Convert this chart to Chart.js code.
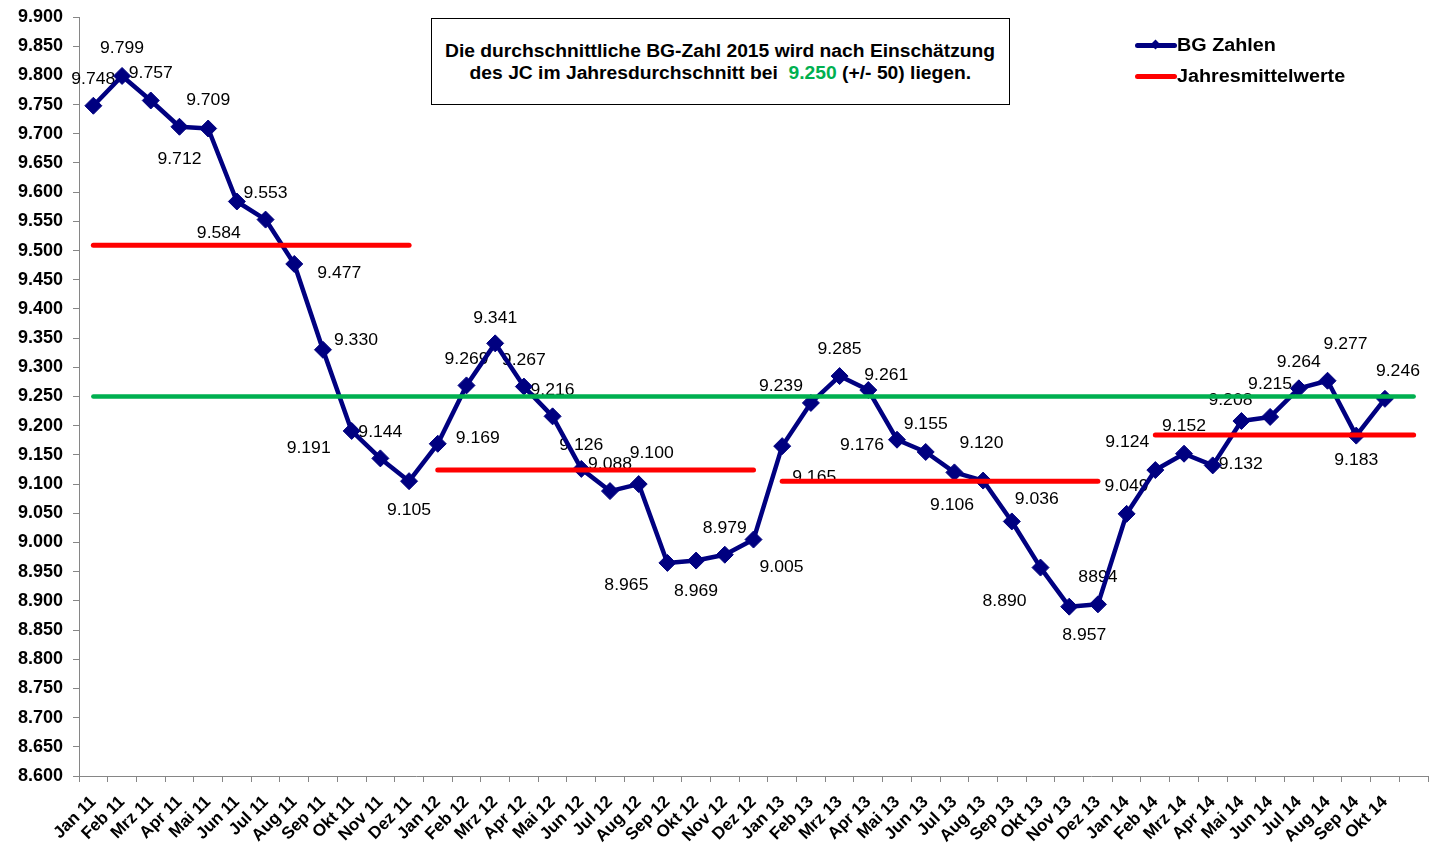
<!DOCTYPE html>
<html>
<head>
<meta charset="utf-8">
<script src="https://cdn.jsdelivr.net/npm/chart.js@4.4.1/dist/chart.umd.min.js"></script>
<style>
  html, body { margin: 0; padding: 0; background: #fff; }
  #wrap { position: relative; width: 1433px; height: 845px; font-family: "Liberation Sans", Arial, sans-serif; }
  #c { position: absolute; left: 0; top: 0; }
  .box { position: absolute; left: 431px; top: 18px; width: 577px; height: 85px; border: 1px solid #000; background: #fff;
         font-weight: bold; font-size: 18px; line-height: 22px; text-align: center; color: #000; }
  .box .ln { position: absolute; left: 0; width: 100%; white-space: nowrap; }
  .box .inner { display: inline-block; transform: scaleX(1.07); transform-origin: center; }
  .green { color: #00B050; }
  .leg { position: absolute; left: 1135px; width: 300px; height: 20px; }
  .leg .sample { position: absolute; left: 0; top: 8px; width: 42px; height: 5px; border-radius: 3px; }
  .leg .dia { position: absolute; left: 17px; top: 6px; width: 7px; height: 7px; background: #000080; transform: rotate(45deg); }
  .leg .txt { position: absolute; left: 42px; top: 0; line-height: 20px; font-weight: bold; font-size: 17.5px; color: #000;
              white-space: nowrap; transform: scaleX(1.13); transform-origin: left center; }
</style>
</head>
<body>
<div id="wrap">
  <canvas id="c" width="1433" height="845"></canvas>
  <div class="box">
    <div class="ln" style="top:21px;"><span class="inner">Die durchschnittliche BG-Zahl 2015 wird nach Einschätzung</span></div>
    <div class="ln" style="top:43px;"><span class="inner">des JC im Jahresdurchschnitt bei &nbsp;<span class="green">9.250</span> (+/- 50) liegen.</span></div>
  </div>
  <div class="leg" style="top:35px;">
    <div class="sample" style="background:#000080;"></div>
    <div class="dia"></div>
    <div class="txt">BG Zahlen</div>
  </div>
  <div class="leg" style="top:66px;">
    <div class="sample" style="background:#FF0000;"></div>
    <div class="txt">Jahresmittelwerte</div>
  </div>
</div>
<script>
// ---- DATA ----
const months = [
  'Jan 11','Feb 11','Mrz 11','Apr 11','Mai 11','Jun 11','Jul 11','Aug 11','Sep 11','Okt 11','Nov 11','Dez 11',
  'Jan 12','Feb 12','Mrz 12','Apr 12','Mai 12','Jun 12','Jul 12','Aug 12','Sep 12','Okt 12','Nov 12','Dez 12',
  'Jan 13','Feb 13','Mrz 13','Apr 13','Mai 13','Jun 13','Jul 13','Aug 13','Sep 13','Okt 13','Nov 13','Dez 13',
  'Jan 14','Feb 14','Mrz 14','Apr 14','Mai 14','Jun 14','Jul 14','Aug 14','Sep 14','Okt 14',''
];
const bgValues = [
  9748, 9799, 9757, 9712, 9709, 9584, 9553, 9477, 9330, 9191, 9144, 9105,
  9169, 9269, 9341, 9267, 9216, 9126, 9088, 9100, 8965, 8969, 8979, 9005,
  9165, 9239, 9285, 9261, 9176, 9155, 9120, 9106, 9036, 8957, 8890, 8894,
  9049, 9124, 9152, 9132, 9208, 9215, 9264, 9277, 9183, 9246
];
const pointLabels = [
  '9.748','9.799','9.757','9.712','9.709','9.584','9.553','9.477','9.330','9.191','9.144','9.105',
  '9.169','9.269','9.341','9.267','9.216','9.126','9.088','9.100','8.965','8.969','8.979','9.005',
  '9.165','9.239','9.285','9.261','9.176','9.155','9.120','9.106','9.036','8.890','8.957','8894',
  '9.049','9.124','9.152','9.132','9.208','9.215','9.264','9.277','9.183','9.246'
];
const yearMeans = [9509, 9124, 9105, 9184];
const yearStartIdx = [0, 12, 24, 37];
const yearEndIdx = [11, 23, 35, 46];
const targetValue = 9250;
const yMin = 8600, yMax = 9900, yStep = 50;

// ---- STYLE: label offsets (px) relative to each point ----
const labelOffsets = [
  [0,-26],[0,-27],[0,-27],[0,33],[0,-28],[-18,32],[0,-26],[45,10],[33,-9],[-43,18],[0,-26],[0,29],
  [40,-5],[0,-26],[0,-25],[0,-26],[0,-26],[0,-23],[0,-26],[13,-30],[-41,23],[0,31],[0,-26],[28,28],
  [32,31],[-30,-16],[0,-26],[18,-14],[-35,6],[0,-27],[27,-29],[-31,25],[25,-22],[-36,34],[15,29],[0,-27],
  [0,-27],[-28,-27],[0,-27],[28,-1],[-11,-20],[0,-32],[0,-26],[18,-36],[0,25],[13,-27]
];

function fmtDE(v) {
  const n = Math.round(v);
  const th = Math.floor(n / 1000);
  const rest = String(n % 1000).padStart(3, '0');
  return th + '.' + rest;
}

const FONT = '"Liberation Sans", Arial, sans-serif';

const labelPlugin = {
  id: 'pointLabelsPlugin',
  beforeDatasetsDraw(chart) {
    const meta = chart.getDatasetMeta(chart.data.datasets.length - 1);
    const ctx = chart.ctx;
    ctx.save();
    ctx.font = '16px ' + FONT;
    ctx.fillStyle = '#000';
    ctx.textAlign = 'center';
    ctx.textBaseline = 'middle';
    meta.data.forEach((pt, i) => {
      if (pointLabels[i] === undefined) return;
      const off = labelOffsets[i] || [0, -26];
      ctx.save();
      ctx.translate(pt.x + off[0], pt.y + off[1]);
      ctx.scale(1.1, 1);
      ctx.fillText(pointLabels[i], 0, 0);
      ctx.restore();
    });
    ctx.restore();
  }
};

const datasets = [];
yearMeans.forEach((m, i) => {
  datasets.push({
    label: 'Jahresmittelwerte',
    data: months.map((_, k) => (k >= yearStartIdx[i] && k <= yearEndIdx[i]) ? m : null),
    borderColor: '#FF0000',
    borderWidth: 5,
    borderCapStyle: 'round',
    pointRadius: 0,
    spanGaps: false,
    order: 1
  });
});
datasets.push({
  label: 'Ziel',
  data: months.map(() => targetValue),
  borderColor: '#00B050',
  borderWidth: 4.5,
  borderCapStyle: 'round',
  pointRadius: 0,
  order: 2
});
datasets.push({
  label: 'BG Zahlen',
  data: bgValues,
  borderColor: '#000080',
  borderWidth: 4.5,
  borderJoinStyle: 'round',
  pointStyle: 'rectRot',
  pointRadius: 8.5,
  pointBackgroundColor: '#000080',
  pointBorderColor: '#000080',
  pointBorderWidth: 1,
  tension: 0,
  order: 3
});

new Chart(document.getElementById('c'), {
  type: 'line',
  data: { labels: months, datasets: datasets },
  options: {
    responsive: false,
    animation: false,
    devicePixelRatio: 1,
    layout: { autoPadding: false, padding: { left: 0, right: 5, top: 17, bottom: 0 } },
    plugins: { legend: { display: false }, tooltip: { enabled: false } },
    scales: {
      x: {
        type: 'category',
        offset: true,
        grid: { offset: true, drawOnChartArea: false, drawTicks: true, tickLength: 6, color: '#868686' },
        border: { color: '#868686', width: 1 },
        ticks: {
          autoSkip: false, maxRotation: 45, minRotation: 45, padding: 10,
          color: '#000', font: { family: FONT, size: 17, weight: 'bold' }
        },
        afterFit(s) { s.height = 69; s.paddingLeft = 0; s.paddingRight = 0; }
      },
      y: {
        min: yMin, max: yMax,
        grid: { drawOnChartArea: false, drawTicks: true, tickLength: 6, color: '#868686' },
        border: { color: '#868686', width: 1 },
        ticks: {
          stepSize: yStep, autoSkip: false, padding: 10,
          color: '#000', font: { family: FONT, size: 18, weight: 'bold' },
          callback: (v) => fmtDE(v)
        },
        afterFit(s) { s.width = 79; s.paddingTop = 0; s.paddingBottom = 0; }
      }
    }
  },
  plugins: [labelPlugin]
});
</script>
</body>
</html>
